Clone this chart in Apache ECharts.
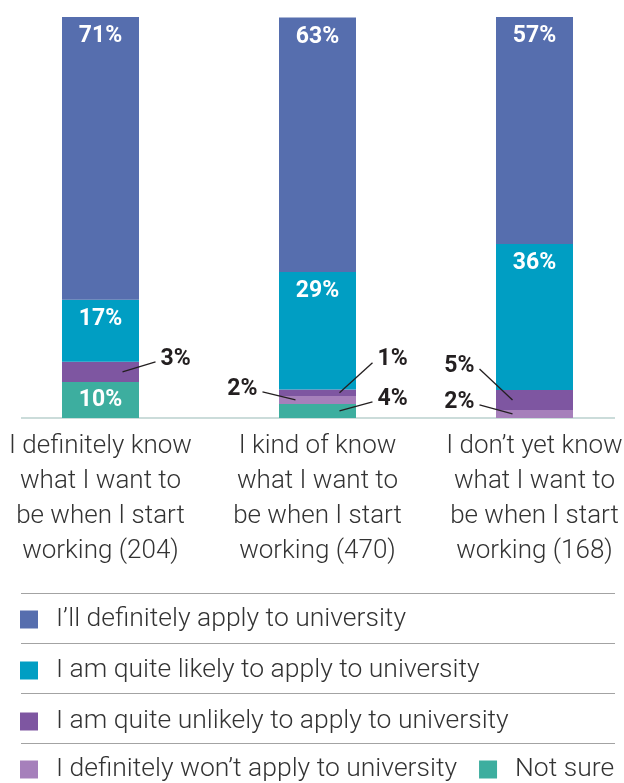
<!DOCTYPE html>
<html>
<head>
<meta charset="utf-8">
<script src="https://cdn.jsdelivr.net/npm/echarts@6/dist/echarts.min.js"></script>
<style>
  html, body { margin: 0; padding: 0; background: #fff; }
  #main { width: 624px; height: 783px; }
</style>
</head>
<body>
<div id="main"></div>
<script>
// categories under the bars
var categories = [
  'I definitely know\nwhat I want to\nbe when I start\nworking (204)',
  'I kind of know\nwhat I want to\nbe when I start\nworking (470)',
  'I don\u2019t yet know\nwhat I want to\nbe when I start\nworking (168)'
];
var seriesNames = [
  'I\u2019ll definitely apply to university',
  'I am quite likely to apply to university',
  'I am quite unlikely to apply to university',
  'I definitely won\u2019t apply to university',
  'Not sure'
];

// segment heights as drawn (share of bar, %)
var definitely = [70.5, 63.5, 56.6];
var likely     = [15.5, 29.3, 36.4];
var unlikely   = [5, 1.6, 5];
var wontApply  = [0, 2, 2];
var notSure    = [9, 3.5, 0];

// printed labels
var pctDefinitely = ['71%', '63%', '57%'];
var pctLikely     = ['17%', '29%', '36%'];
var pctUnlikely   = ['3%', '1%', '5%'];
var pctWont       = ['', '2%', '2%'];
var pctNotSure    = ['10%', '4%', ''];

var colors = ['#566eae', '#009ec3', '#7e56a1', '#a680bb', '#3dae9f'];

// stack from bottom to top
var order = ['notSure', 'wont', 'unlikely', 'likely', 'definitely'];
var segs = { notSure: notSure, wont: wontApply, unlikely: unlikely, likely: likely, definitely: definitely };
var pcts = { notSure: pctNotSure, wont: pctWont, unlikely: pctUnlikely, likely: pctLikely, definitely: pctDefinitely };
var names = { definitely: seriesNames[0], likely: seriesNames[1], unlikely: seriesNames[2], wont: seriesNames[3], notSure: seriesNames[4] };
var cols = { definitely: colors[0], likely: colors[1], unlikely: colors[2], wont: colors[3], notSure: colors[4] };

// small segments get a leader line: key, category, side, rise (px)
var callouts = [
  ['unlikely', 0, 1, -10],
  ['unlikely', 1, 1, -30],
  ['notSure', 1, 1, -9],
  ['wont', 1, -1, -8],
  ['unlikely', 2, -1, -31],
  ['wont', 2, -1, -9]
];

var font = 'Roboto, "Noto Sans", sans-serif';
var ink = '#231f20';

var chart = echarts.init(document.getElementById('main'), null, { renderer: 'canvas' });

var barSeries = order.map(function (k) {
  var pos = (k === 'definitely' || k === 'likely') ? 'insideTop' : 'inside';
  return {
    name: names[k],
    type: 'bar',
    stack: 'total',
    barWidth: 77,
    data: segs[k],
    itemStyle: { color: cols[k] },
    label: {
      show: true,
      position: pos,
      distance: 8,
      color: '#fff',
      fontSize: 23,
      fontWeight: 'bold',
      fontFamily: font,
      formatter: function (p) {
        return segs[k][p.dataIndex] >= 8 ? pcts[k][p.dataIndex] : '';
      }
    },
    emphasis: { disabled: true }
  };
});

var calloutData = callouts.map(function (c) {
  var idx = order.indexOf(c[0]);
  var base = 0;
  for (var j = 0; j < idx; j++) base += segs[order[j]][c[1]];
  return [c[1], base + segs[c[0]][c[1]] / 2];
});

var legendText = { fontSize: 26.5, lineHeight: 26, color: '#333', fontWeight: 300, fontFamily: font, padding: [0, 0, 0, 13] };

var option = {
  animation: false,
  backgroundColor: '#fff',
  grid: { left: -8, right: -19, top: 17, bottom: 365, outerBoundsMode: 'none', containLabel: false },
  xAxis: {
    type: 'category',
    data: categories,
    axisLine: { show: false },
    axisTick: { show: false },
    axisLabel: {
      interval: 0,
      margin: 11,
      fontSize: 26,
      lineHeight: 35,
      color: '#333',
      fontWeight: 300,
      fontFamily: font
    }
  },
  yAxis: {
    type: 'value',
    min: 0,
    max: 100,
    show: false,
    splitLine: { show: false }
  },
  legend: [{
    orient: 'vertical',
    left: 20,
    top: 606,
    padding: 0,
    itemWidth: 18,
    itemHeight: 18,
    itemGap: 24,
    icon: 'rect',
    selectedMode: false,
    data: seriesNames.slice(0, 3),
    textStyle: legendText
  }, {
    orient: 'horizontal',
    left: 20,
    top: 756,
    padding: 0,
    itemWidth: 18,
    itemHeight: 18,
    itemGap: 22,
    icon: 'rect',
    selectedMode: false,
    data: seriesNames.slice(3),
    textStyle: legendText
  }],
  graphic: [
    { type: 'line', shape: { x1: 21, y1: 418, x2: 615, y2: 418 }, style: { stroke: '#cbdcda', lineWidth: 2 } },
    { type: 'line', shape: { x1: 21, y1: 593.5, x2: 615, y2: 593.5 }, style: { stroke: '#a3a3a3', lineWidth: 1 } },
    { type: 'line', shape: { x1: 21, y1: 643.5, x2: 615, y2: 643.5 }, style: { stroke: '#a3a3a3', lineWidth: 1 } },
    { type: 'line', shape: { x1: 21, y1: 693.5, x2: 615, y2: 693.5 }, style: { stroke: '#a3a3a3', lineWidth: 1 } },
    { type: 'line', shape: { x1: 21, y1: 743.5, x2: 615, y2: 743.5 }, style: { stroke: '#a3a3a3', lineWidth: 1 } }
  ],
  series: barSeries.concat([{
    type: 'custom',
    name: 'callouts',
    data: calloutData,
    z: 10,
    silent: true,
    renderItem: function (params, api) {
      var c = callouts[params.dataIndex];
      var p = api.coord([api.value(0), api.value(1)]);
      var side = c[2], rise = c[3];
      var x1 = p[0] + side * 22, y1 = p[1];
      var x2 = p[0] + side * 55, y2 = p[1] + rise;
      return {
        type: 'group',
        children: [{
          type: 'line',
          shape: { x1: x1, y1: y1, x2: x2, y2: y2 },
          style: { stroke: ink, lineWidth: 1.3 }
        }, {
          type: 'text',
          x: x2 + side * 5,
          y: y2 - 3,
          style: {
            text: pcts[c[0]][c[1]],
            fill: ink,
            fontSize: 23,
            fontWeight: 'bold',
            fontFamily: font,
            align: side > 0 ? 'left' : 'right',
            verticalAlign: 'middle'
          }
        }]
      };
    }
  }])
};

chart.setOption(option);
</script>
</body>
</html>
